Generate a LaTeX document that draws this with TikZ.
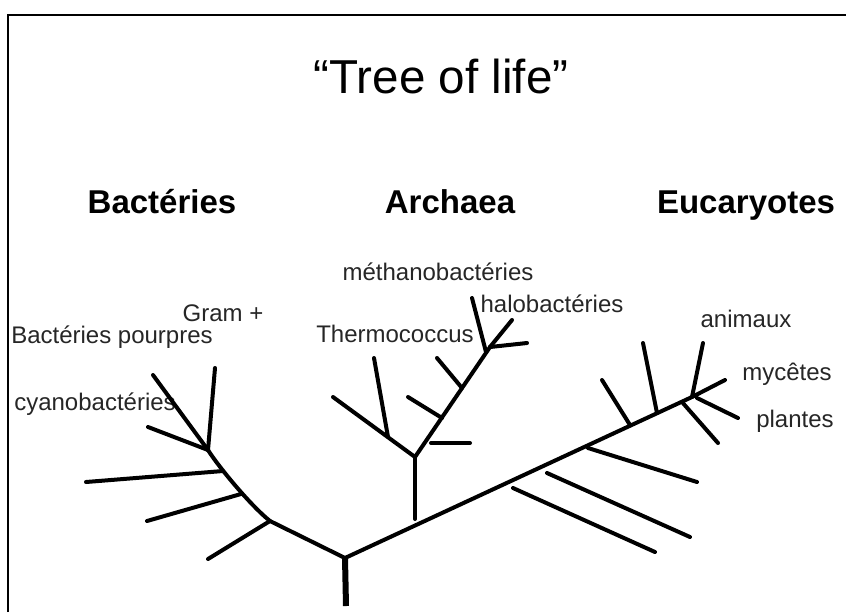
\documentclass[tikz,border=0pt]{standalone}
\usepackage{fontspec}
\setmainfont{Liberation Sans}
\tikzset{
  branch/.style={line width=2pt, line cap=round, black},
  stem/.style={line width=3pt, black},
  frameline/.style={line width=1pt, black},
  titletext/.style={font=\fontsize{23.8}{28}\selectfont, anchor=base, inner sep=0pt},
  headtext/.style={font=\fontsize{16.5}{20}\selectfont\bfseries, anchor=base, inner sep=0pt},
  labeltext/.style={font=\fontsize{12}{14}\selectfont, anchor=base, inner sep=0pt, text=black!85},
}
\begin{document}
\begin{tikzpicture}[x=0.5pt, y=-0.5pt]
\useasboundingbox (0,0) rectangle (846,612);
% frame (top and left edges)
\coordinate (fbl) at (8,612);
\coordinate (ftl) at (8,15);
\coordinate (ftr) at (846,15);
\draw[frameline] (fbl) -- (ftl) -- (ftr);

% title and headers
\node[titletext] (title) at (441,93) {“Tree of life”};
\node[headtext] (hbac) at (162,213) {Bactéries};
\node[headtext] (harc) at (450,213) {Archaea};
\node[headtext] (heuc) at (746,213) {Eucaryotes};

% labels
\node[labeltext] (lgram) at (223,321) {Gram +};
\node[labeltext] (lpour) at (112,343) {Bactéries pourpres};
\node[labeltext] (lcyan) at (95,410) {cyanobactéries};
\node[labeltext] (lmeth) at (438,280) {méthanobactéries};
\node[labeltext] (lhalo) at (552,312) {halobactéries};
\node[labeltext] (lther) at (395,342) {Thermococcus};
\node[labeltext] (lanim) at (746,327) {animaux};
\node[labeltext] (lmyc) at (787,380) {mycêtes};
\node[labeltext] (lpla) at (795,427) {plantes};

% ---------- root ----------
\coordinate (root) at (345,558);
\coordinate (rootbot) at (346,606);
\draw[stem] (root) -- (rootbot);

% ---------- bacteria ----------
\coordinate (bA) at (270,521);
\coordinate (bB) at (241,494);
\coordinate (bC) at (223,471);
\coordinate (bD) at (208,450);
\draw[branch] (root) -- (bA) .. controls (250,505) and (218,466) .. (bD);
\coordinate (bAt) at (208,559);
\coordinate (bBt) at (147,521);
\coordinate (bCt) at (86,482);
\coordinate (bDt1) at (148,427);
\coordinate (bDt2) at (153,375);
\coordinate (bDt3) at (215,368);
\draw[branch] (bA) -- (bAt);
\draw[branch] (bB) -- (bBt);
\draw[branch] (bC) -- (bCt);
\draw[branch] (bD) -- (bDt1);
\draw[branch] (bD) -- (bDt2);
\draw[branch] (bD) -- (bDt3);

% ---------- main right branch ----------
\coordinate (eT) at (692,397);
\draw[branch] (root) -- (eT);

% ---------- archaea ----------
\coordinate (aS) at (415,519);
\coordinate (a0) at (415,457);
\draw[branch] (aS) -- (a0);
\coordinate (aL) at (333,397);
\draw[branch] (a0) -- (aL);
\coordinate (aThs) at (388,437);
\coordinate (aTht) at (374,358);
\draw[branch] (aThs) -- (aTht);
\coordinate (aTop) at (490,347);
\draw[branch] (a0) -- (aTop);
\coordinate (aH1) at (431,443);
\coordinate (aH2) at (470,443);
\draw[branch] (aH1) -- (aH2);
\coordinate (aB1) at (442,418);
\coordinate (aB1t) at (408,397);
\draw[branch] (aB1) -- (aB1t);
\coordinate (aB2) at (462,388);
\coordinate (aB2t) at (437,358);
\draw[branch] (aB2) -- (aB2t);
\coordinate (aMs) at (486,352);
\coordinate (aMt) at (472,298);
\draw[branch] (aMs) -- (aMt);
\coordinate (aHt) at (512,320);
\coordinate (aXt) at (527,343);
\draw[branch] (aTop) -- (aHt);
\draw[branch] (aTop) -- (aXt);

% ---------- eukaryotes ----------
\coordinate (eL1) at (513,488);
\coordinate (eL1t) at (655,552);
\draw[branch] (eL1) -- (eL1t);
\coordinate (eL2) at (547,473);
\coordinate (eL2t) at (690,537);
\draw[branch] (eL2) -- (eL2t);
\coordinate (eL3) at (588,448);
\coordinate (eL3t) at (697,482);
\draw[branch] (eL3) -- (eL3t);
\coordinate (eU1) at (630,425);
\coordinate (eU1t) at (602,380);
\draw[branch] (eU1) -- (eU1t);
\coordinate (eU2) at (657,413);
\coordinate (eU2t) at (643,343);
\draw[branch] (eU2) -- (eU2t);
\coordinate (eU3) at (682,402);
\coordinate (eU3t) at (718,443);
\draw[branch] (eU3) -- (eU3t);
\coordinate (eAn) at (703,343);
\coordinate (eMy) at (725,380);
\coordinate (ePlS) at (697,398);
\coordinate (ePl) at (738,418);
\draw[branch] (eT) -- (eAn);
\draw[branch] (eT) -- (eMy);
\draw[branch] (ePlS) -- (ePl);
\end{tikzpicture}
\end{document}
